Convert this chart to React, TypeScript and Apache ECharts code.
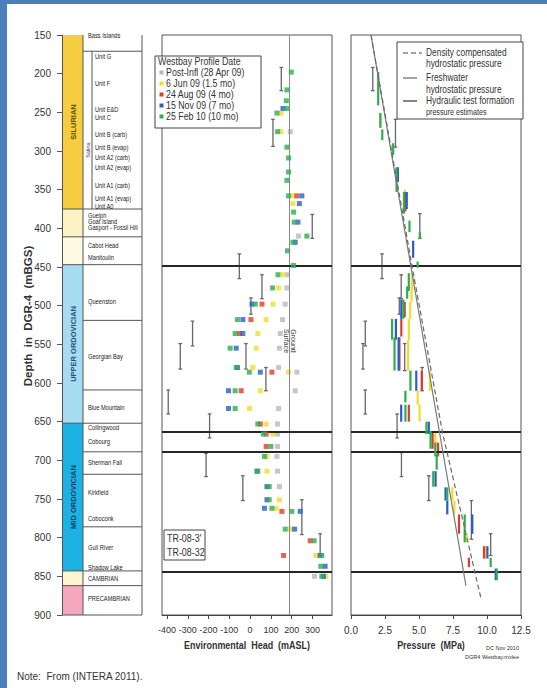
import React, { useEffect, useRef } from 'react';
import * as echarts from 'echarts';

const SANS = "'Liberation Sans', Arial, sans-serif";
const NARROW_SCALE = 0.8;

// ---- Stratigraphic column (depths in mBGS) ----
const periodTops = [150, 375, 411, 447, 652, 843, 862];
const periodBases = [375, 411, 447, 652, 843, 862, 900];
const periodLabels = ['SILURIAN', '', '', 'UPPER ORDOVICIAN', 'MID ORDOVICIAN', '', ''];
const unitBoundaries = [171, 519, 609, 689, 718, 786];
const groupBoundaries = [375, 411, 447, 652, 843, 862];
const salinaTop = 171;
const salinaBase = 375;
const formationNames = [
  'Bass Islands', 'Unit G', 'Unit F', 'Unit E&D', 'Unit C', 'Unit B (carb)', 'Unit B (evap)',
  'Unit A2 (carb)', 'Unit A2 (evap)', 'Unit A1 (carb)', 'Unit A1 (evap)', 'Unit A0',
  'Guelph', 'Goat Island', 'Gasport - Fossil Hill', 'Cabot Head', 'Manitoulin', 'Queenston',
  'Georgian Bay', 'Blue Mountain', 'Collingwood', 'Cobourg', 'Sherman Fall', 'Kirkfield',
  'Coboconk', 'Gull River', 'Shadow Lake', 'CAMBRIAN', 'PRECAMBRIAN',
];
const formationLabelDepths = [
  151, 178, 213, 246, 256, 279, 295, 308, 321, 344, 361, 371,
  383, 391, 399, 422, 437, 495, 566, 632, 657, 676, 703, 742,
  775, 813, 838, 852, 879,
];

// ---- Depth axis ----
const depthMin = 150;
const depthMax = 900;
const depthInterval = 50;
const markerHorizons = [448, 663.5, 689.5, 844.7];
const groundSurfaceHead = 189;

// ---- Environmental head profiles (mASL) at Westbay ports ----
const headTickValues = [-400, -300, -200, -100, 0, 100, 200, 300];
const portDepths = [
  198, 221, 235, 245, 251, 275, 295, 309, 327, 338, 358, 368, 379, 392, 410, 418, 429, 448,
  460, 477, 498, 518, 536, 555, 580, 586, 610, 633, 653, 666, 682, 695, 714, 734, 751, 762,
  766, 789, 804, 823, 837, 850,
];
const headPostInfl = [
  null, null, null, null, null, 193, null, null, null, null, null, null, null, null, 233, null, null, null,
  180, 177, 169, 156, 145, 141, 137, 225, 217, 137, 132, 132, 132, 129, 132, 141, null, null,
  null, null, null, null, null, 310,
];
const headJun09 = [
  null, null, null, null, 148, 148, null, null, null, null, 206, 206, null, null, null, null, null, null,
  158, 137, 110, 77, 37, 29, 13, 185, 49, -3, 77, 110, null, 81, 81, null, 141, 125,
  null, 193, null, 316, null, 364,
];
const headAug09 = [
  null, null, null, null, null, null, null, null, null, null, 225, null, null, null, null, null, null, null,
  null, null, 57, 4, -51, null, null, 105, -43, null, 49, 77, 77, null, null, null, null, null,
  153, null, 289, 161, null, null,
];
const headNov09 = [
  null, null, null, 158, null, null, null, null, null, null, 249, 237, null, 230, null, 217, null, null,
  null, null, 9, -35, -35, -67, -61, 49, -104, -104, null, null, null, null, 33, 81, 81, 69,
  241, 214, null, 337, 361, 353,
];
const headFeb10 = [
  198, 177, 174, 177, 129, 132, 177, 185, 185, 177, 185, null, 209, 212, 273, 206, 180, 209,
  134, 108, 25, -61, -72, -96, -67, -4, -72, -72, 37, 64, 100, 69, 37, 92, 92, 105,
  201, 169, 308, 345, 340, 345,
];
// Hydraulic test estimates: [head, interval top, interval base]
const testHeads = [
  [150, 192, 222], [110, 259, 294], [299, 382, 413], [-52, 433, 465], [57, 460, 491], [4, 490, 511],
  [-277, 520, 552], [-336, 549, 582], [-20, 549, 582], [76, 580, 610], [-394, 609, 640],
  [-195, 640, 671], [-212, 691, 721], [-35, 720, 752], [249, 751, 796], [337, 795, 822],
];

// ---- Pressure profiles (MPa): [pressure, zone top, zone base] ----
const pressureJun09 = [
  [2.16, 251, 270], [3.95, 350, 372], [4.5, 460, 481], [4.45, 481, 495], [4.35, 495, 517],
  [4.25, 517, 545], [4.2, 545, 584], [5.8, 584, 610], [4.9, 610, 628], [5.04, 628, 650],
  [6.2, 662, 685], [7.45, 735, 752], [7.6, 752, 770], [8.5, 795, 806], [9.9, 811, 827],
];
const pressureAug09 = [
  [4.0, 353, 378], [3.95, 495, 515], [3.7, 517, 540], [3.56, 541, 584], [5.2, 584, 610],
  [4.25, 628, 650], [6.0, 662, 685], [6.4, 677, 695], [7.94, 770, 795], [9.78, 811, 827],
  [8.67, 826, 838],
];
const pressureNov09 = [
  [3.45, 321, 340], [4.1, 353, 375], [4.57, 416, 438], [3.7, 492, 517], [3.3, 517, 544],
  [3.5, 541, 584], [4.8, 584, 610], [3.69, 628, 650], [5.72, 650, 666], [6.22, 714, 734],
  [6.95, 735, 752], [7.08, 752, 770], [8.92, 770, 795], [10.03, 811, 827], [10.64, 840, 855],
];
const pressureFeb10 = [
  [2.0, 198, 241], [2.16, 251, 270], [2.3, 272, 286], [3.1, 290, 305], [3.35, 321, 353],
  [3.9, 353, 381], [4.3, 390, 405], [5.06, 405, 414], [4.9, 443, 451], [4.25, 458, 481],
  [4.13, 475, 491], [3.85, 492, 517], [3.02, 517, 544], [3.2, 541, 584], [4.37, 584, 610],
  [4.0, 610, 625], [4.0, 628, 650], [5.55, 650, 666], [5.85, 662, 685], [6.2, 677, 695],
  [6.3, 692, 712], [6.05, 714, 734], [7.08, 735, 752], [8.36, 770, 806], [10.27, 826, 838],
  [10.72, 840, 855],
];
const testPressures = [
  [1.6, 192, 222], [3.27, 259, 295], [5.06, 381, 413], [2.28, 433, 465], [3.69, 460, 491],
  [3.55, 490, 511], [1.05, 520, 552], [0.88, 549, 582], [3.95, 549, 584], [5.23, 580, 610],
  [1.05, 609, 640], [3.39, 640, 671], [3.71, 690, 721], [5.72, 720, 752], [8.85, 752, 802],
  [10.27, 795, 823],
];
const freshwaterHydrostatic = [[1.47, 150], [8.45, 862]];
const densityCompensated = [[1.47, 150], [4.5, 450], [6.75, 666], [9.55, 878]];

const dateNames = ['Post-Infl (28 Apr 09)', '6 Jun 09 (1.5 mo)', '24 Aug 09 (4 mo)', '15 Nov 09 (7 mo)', '25 Feb 10 (10 mo)'];
const dateColors = ['#b6b6be', '#f0dc2a', '#e2392f', '#2b5ccb', '#2cae4c'];
const periodFills = ['#f6cd40', '#fdf2c4', '#fffae4', '#a7dbf1', '#1cb2e4', '#fdf5cf', '#f5a7be'];
const periodTextColors = ['#5b4a12', '', '', '#24507a', '#1d3a6a', '', ''];
const testColor = '#66666e';

const headSeriesData = [headPostInfl, headJun09, headAug09, headNov09, headFeb10];
const pressureSeriesData = [pressureJun09, pressureAug09, pressureNov09, pressureFeb10];

// Text element helper; narrow lettering is obtained by squeezing the glyphs horizontally.
function txt(text: string, x: number, y: number, size: number, extra: any = {}) {
  const align = extra.align || 'left';
  const va = extra.verticalAlign || 'middle';
  return {
    type: 'text',
    x,
    y,
    rotation: extra.rotation || 0,
    scaleX: extra.scaleX ?? NARROW_SCALE,
    silent: true,
    style: {
      text,
      fontSize: size,
      fontFamily: SANS,
      fontWeight: extra.fontWeight || 'normal',
      fill: extra.fill || '#333',
      align,
      verticalAlign: va,
      textAlign: align,
      textVerticalAlign: va,
      lineHeight: extra.lineHeight,
    },
  };
}

function barRenderer(color: string, width: number, cap: number) {
  return (params: any, api: any) => {
    const a = api.coord([api.value(0), api.value(1)]);
    const b = api.coord([api.value(0), api.value(2)]);
    const st = { stroke: color, lineWidth: width };
    const children: any[] = [{ type: 'line', shape: { x1: a[0], y1: a[1], x2: b[0], y2: b[1] }, style: st }];
    if (cap > 0) {
      children.push({ type: 'line', shape: { x1: a[0] - cap, y1: a[1], x2: a[0] + cap, y2: a[1] }, style: st });
      children.push({ type: 'line', shape: { x1: b[0] - cap, y1: b[1], x2: b[0] + cap, y2: b[1] }, style: st });
    }
    return { type: 'group', children };
  };
}

const horizonLines = {
  silent: true,
  symbol: ['none', 'none'],
  label: { show: false },
  lineStyle: { color: '#262626', width: 2, type: 'solid' },
  data: markerHorizons.map((d) => ({ yAxis: d })),
};

const axisLabelStyle = { fontFamily: SANS, color: '#333' };

export default function App() {
  const ref = useRef<HTMLDivElement>(null);

  useEffect(() => {
    if (!ref.current) return;
    const chart = echarts.init(ref.current, undefined, { renderer: 'svg' });

    const depthAxisBase = {
      type: 'value',
      inverse: true,
      min: depthMin,
      max: depthMax,
    };

    // column layout inside the stratigraphy grid (x units = px from its left edge)
    const periodRenderer = (params: any, api: any) => {
      const i = api.value(0);
      const a = api.coord([1, api.value(1)]);
      const b = api.coord([21, api.value(2)]);
      const children: any[] = [
        { type: 'rect', shape: { x: a[0], y: a[1], width: b[0] - a[0], height: b[1] - a[1] }, style: { fill: periodFills[i] } },
      ];
      if (periodLabels[i]) {
        children.push(txt(periodLabels[i], (a[0] + b[0]) / 2, (a[1] + b[1]) / 2, 7.5, {
          align: 'center', rotation: Math.PI / 2, fill: periodTextColors[i], fontWeight: 'bold', scaleX: 1,
        }));
      }
      return { type: 'group', children };
    };
    const boundaryRenderer = (fromX: number) => (params: any, api: any) => {
      const a = api.coord([fromX, api.value(0)]);
      const b = api.coord([80, api.value(0)]);
      return { type: 'line', shape: { x1: a[0], y1: a[1], x2: b[0], y2: b[1] }, style: { stroke: '#555', lineWidth: 1 } };
    };
    const frameRenderer = (params: any, api: any) => {
      const tl = api.coord([0, depthMin]);
      const br = api.coord([80, depthMax]);
      const divTop = api.coord([21, depthMin]);
      const sTop = api.coord([30, salinaTop]);
      const sBot = api.coord([30, salinaBase]);
      const st = { stroke: '#555', lineWidth: 1, fill: 'none' };
      return {
        type: 'group',
        children: [
          { type: 'line', shape: { x1: br[0], y1: tl[1], x2: br[0], y2: br[1] }, style: st },
          { type: 'line', shape: { x1: tl[0], y1: br[1], x2: br[0], y2: br[1] }, style: st },
          { type: 'line', shape: { x1: divTop[0], y1: tl[1], x2: divTop[0], y2: br[1] }, style: st },
          { type: 'line', shape: { x1: sTop[0], y1: sTop[1], x2: sBot[0], y2: sBot[1] }, style: st },
          txt('Salina', sTop[0] - 4, (sTop[1] + sBot[1]) / 2 + 20, 5.5, { align: 'center', rotation: Math.PI / 2, scaleX: 1 }),
        ],
      };
    };
    const labelRenderer = (params: any, api: any) => {
      const i = api.value(0);
      const d = api.value(1);
      const inSalina = d > salinaTop && d < salinaBase;
      const p = api.coord([inSalina ? 33 : 26, d]);
      return txt(formationNames[i], p[0], p[1], 6.5, { fill: '#222', scaleX: 0.88 });
    };

    const headSeries = headSeriesData.map((arr, k) => ({
      type: 'scatter',
      name: dateNames[k],
      xAxisIndex: 1,
      yAxisIndex: 1,
      symbol: 'rect',
      symbolSize: 5,
      silent: true,
      itemStyle: { color: dateColors[k] },
      data: portDepths
        .map((d, i) => [arr[i], d])
        .filter((p) => p[0] !== null),
      z: 3 + k,
      ...(k === 0
        ? {
            markLine: {
              silent: true,
              symbol: ['none', 'none'],
              label: { show: false },
              lineStyle: { color: '#8a8a8a', width: 1, type: 'solid' },
              data: [{ xAxis: groundSurfaceHead }],
            },
          }
        : {}),
      ...(k === 4 ? { markLine: horizonLines } : {}),
    }));

    const pressureSeries = pressureSeriesData.map((arr, k) => ({
      type: 'custom',
      name: dateNames[k + 1],
      xAxisIndex: 2,
      yAxisIndex: 2,
      silent: true,
      renderItem: barRenderer(dateColors[k + 1], 2.2, 0),
      encode: { x: 0, y: [1, 2] },
      data: arr,
      z: 3 + k,
    }));

    const option: any = {
      animation: false,
      grid: [
        { left: 62, top: 35, width: 80, height: 580 },
        { left: 162, top: 35, width: 170, height: 580, show: true, borderColor: '#555', borderWidth: 1 },
        { left: 351, top: 35, width: 170, height: 580, show: true, borderColor: '#555', borderWidth: 1 },
      ],
      xAxis: [
        { gridIndex: 0, type: 'value', min: 0, max: 80, show: false },
        {
          gridIndex: 1,
          type: 'value',
          min: -424,
          max: 394,
          splitLine: { show: false },
          axisLine: { show: true, onZero: false, lineStyle: { color: '#444' } },
          axisTick: { show: true, length: 4, customValues: headTickValues, lineStyle: { color: '#444' } },
          axisLabel: { ...axisLabelStyle, customValues: headTickValues, fontSize: 9, margin: 10, showMinLabel: true, showMaxLabel: true },
        },
        {
          gridIndex: 2,
          type: 'value',
          min: 0,
          max: 12.5,
          interval: 2.5,
          splitLine: { show: false },
          axisLine: { show: true, onZero: false, lineStyle: { color: '#444' } },
          axisTick: { show: true, length: 4, lineStyle: { color: '#444' } },
          axisLabel: {
            ...axisLabelStyle, fontSize: 10, margin: 10,
            showMinLabel: true, showMaxLabel: true,
            formatter: (v: number) => v.toFixed(1),
          },
        },
      ],
      yAxis: [
        {
          ...depthAxisBase,
          gridIndex: 0,
          interval: depthInterval,
          splitLine: { show: false },
          axisLine: { show: true, lineStyle: { color: '#555' } },
          axisTick: { show: true, length: 5, lineStyle: { color: '#555' } },
          axisLabel: { ...axisLabelStyle, fontSize: 10, margin: 11 },
        },
        { ...depthAxisBase, gridIndex: 1, show: false },
        { ...depthAxisBase, gridIndex: 2, show: false },
      ],
      series: [
        {
          type: 'custom', xAxisIndex: 0, yAxisIndex: 0, silent: true,
          renderItem: periodRenderer, encode: { x: 0, y: [1, 2] },
          data: periodTops.map((t, i) => [i, t, periodBases[i]]),
        },
        {
          type: 'custom', xAxisIndex: 0, yAxisIndex: 0, silent: true, z: 3,
          renderItem: boundaryRenderer(21), encode: { y: 0 },
          data: unitBoundaries.map((d) => [d]),
        },
        {
          type: 'custom', xAxisIndex: 0, yAxisIndex: 0, silent: true, z: 3,
          renderItem: boundaryRenderer(0), encode: { y: 0 },
          data: groupBoundaries.map((d) => [d]),
        },
        {
          type: 'custom', xAxisIndex: 0, yAxisIndex: 0, silent: true, z: 3,
          renderItem: frameRenderer, encode: { y: 0 },
          data: [[depthMin]],
        },
        {
          type: 'custom', xAxisIndex: 0, yAxisIndex: 0, silent: true, z: 4,
          renderItem: labelRenderer, encode: { x: 0, y: 1 },
          data: formationLabelDepths.map((d, i) => [i, d]),
        },
        {
          type: 'custom', xAxisIndex: 1, yAxisIndex: 1, silent: true, z: 2,
          renderItem: barRenderer(testColor, 1.3, 1.8), encode: { x: 0, y: [1, 2] },
          data: testHeads,
        },
        ...headSeries,
        {
          type: 'line', name: 'Freshwater hydrostatic pressure', xAxisIndex: 2, yAxisIndex: 2,
          silent: true, showSymbol: false, symbol: 'none', z: 8,
          lineStyle: { color: '#7a7a7a', width: 1.2 },
          data: freshwaterHydrostatic,
          markLine: horizonLines,
        },
        {
          type: 'line', name: 'Density compensated hydrostatic pressure', xAxisIndex: 2, yAxisIndex: 2,
          silent: true, showSymbol: false, symbol: 'none', z: 8,
          lineStyle: { color: '#6a6a6a', width: 1.2, type: [5, 3] },
          data: densityCompensated,
        },
        {
          type: 'custom', xAxisIndex: 2, yAxisIndex: 2, silent: true, z: 2,
          renderItem: barRenderer(testColor, 1.3, 1.8), encode: { x: 0, y: [1, 2] },
          data: testPressures,
        },
        ...pressureSeries,
      ],
      graphic: [
        // page frame
        { type: 'rect', shape: { x: 0, y: 0, width: 547, height: 4 }, style: { fill: '#4a7ebd' }, silent: true },
        { type: 'rect', shape: { x: 0, y: 0, width: 7, height: 688 }, style: { fill: '#4a7ebd' }, silent: true },
        txt('Depth  in  DGR-4  (mBGS)', 28, 316, 11.5, { align: 'center', rotation: Math.PI / 2, fontWeight: 'bold', scaleX: 1 }),
        // head legend
        {
          type: 'group',
          silent: true,
          children: [
            { type: 'rect', shape: { x: 155, y: 56, width: 106, height: 72 }, style: { fill: '#fff', stroke: '#444', lineWidth: 1 } },
            txt('Westbay Profile Date', 158, 61.5, 10.5, { scaleX: 0.84 }),
            ...dateNames.flatMap((n, i) => [
              { type: 'rect', shape: { x: 159.5, y: 70.5 + i * 11, width: 4, height: 4 }, style: { fill: dateColors[i] } },
              txt(n, 166, 72.5 + i * 11, 10.5, { scaleX: 0.84 }),
            ]),
          ],
        },
        // pressure legend
        {
          type: 'group',
          silent: true,
          children: [
            { type: 'rect', shape: { x: 397, y: 42, width: 126, height: 77 }, style: { fill: '#fff', stroke: '#444', lineWidth: 1 } },
            { type: 'line', shape: { x1: 403, y1: 53, x2: 422, y2: 53 }, style: { stroke: '#444', lineWidth: 1.2, lineDash: [5, 3] } },
            { type: 'line', shape: { x1: 403, y1: 78, x2: 417, y2: 78 }, style: { stroke: '#666', lineWidth: 1.2 } },
            { type: 'line', shape: { x1: 403, y1: 101, x2: 417, y2: 101 }, style: { stroke: '#333', lineWidth: 1.2 } },
            txt('Density compensated', 426, 52.5, 10.5),
            txt('hydrostatic pressure', 426, 63.5, 10.5),
            txt('Freshwater', 426, 77, 10.5),
            txt('hydrostatic pressure', 426, 89, 10.5),
            txt('Hydraulic test formation', 426, 100.5, 10.5),
            txt('pressure estimates', 426, 112, 9),
          ],
        },
        // test-interval note box
        {
          type: 'group',
          silent: true,
          children: [
            { type: 'rect', shape: { x: 164, y: 530, width: 41, height: 30 }, style: { fill: '#fff', stroke: '#444', lineWidth: 1 } },
            txt("TR-08-3'", 167, 538.5, 10.5, { scaleX: 0.85 }),
            txt('TR-08-32', 167, 552, 10.5, { scaleX: 0.85 }),
          ],
        },
        txt('Ground\nSurface', 289.5, 341, 7, { align: 'center', rotation: -Math.PI / 2, lineHeight: 7, scaleX: 1 }),
        txt('Environmental  Head  (mASL)', 247, 645, 11.5, { align: 'center', fontWeight: 'bold', scaleX: 0.78 }),
        txt('Pressure  (MPa)', 431, 645, 11.5, { align: 'center', fontWeight: 'bold', scaleX: 0.78 }),
        txt('DC Nov 2010', 519, 648, 5.5, { align: 'right', scaleX: 1 }),
        txt('DGR4 Westbay.mxlee', 519, 657, 5.5, { align: 'right', scaleX: 1 }),
        txt('Note:  From (INTERA 2011).', 17, 676, 10, { scaleX: 1 }),
      ],
    };

    chart.setOption(option);
    return () => chart.dispose();
  }, []);

  return (
    <div
      ref={ref}
      style={{ position: 'absolute', left: 0, top: 0, width: 547, height: 688, background: '#fff' }}
    />
  );
}
